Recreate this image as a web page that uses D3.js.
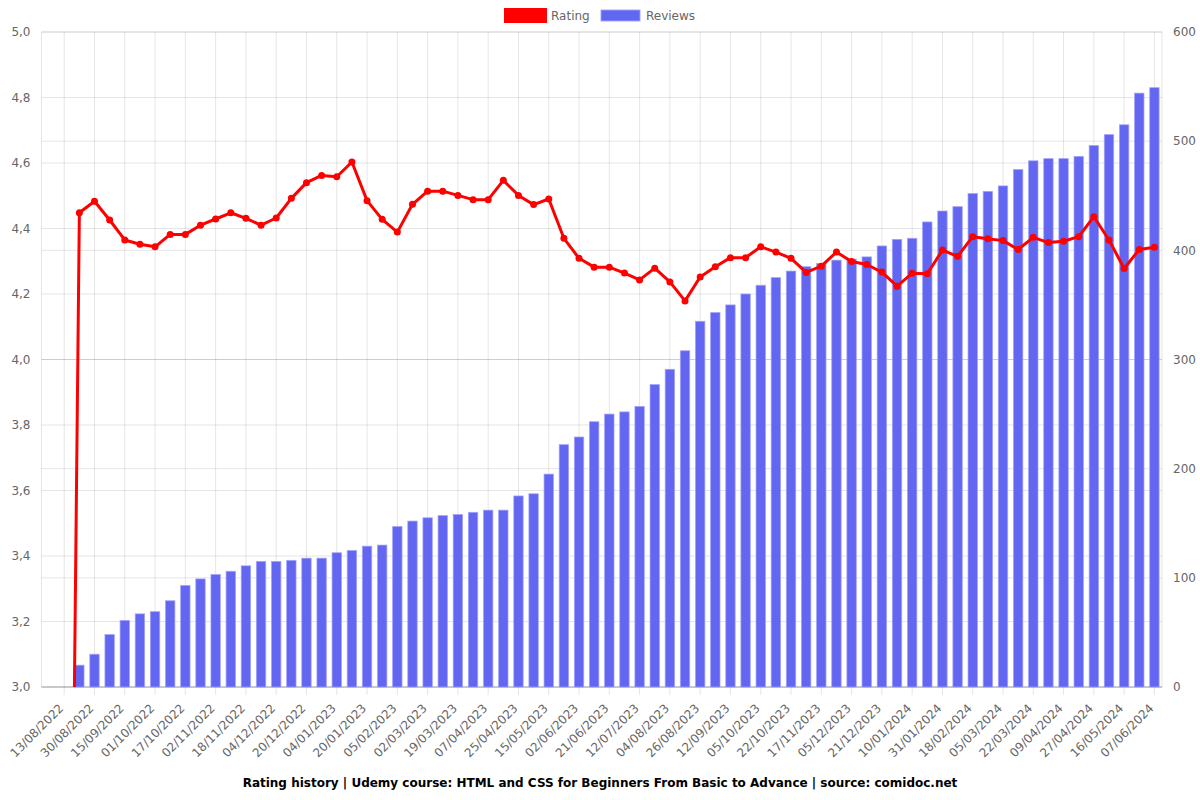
<!DOCTYPE html>
<html>
<head>
<meta charset="utf-8">
<script src="https://cdn.jsdelivr.net/npm/d3@7"></script>
<style>
  html, body { margin: 0; padding: 0; background: #fff; }
  svg { display: block; font-family: "DejaVu Sans", sans-serif; }
</style>
</head>
<body>
<svg id="chart" width="1200" height="800"></svg>
<script>
// ---- data ----
const tickLabels = ["13/08/2022","30/08/2022","15/09/2022","01/10/2022","17/10/2022","02/11/2022","18/11/2022","04/12/2022","20/12/2022","04/01/2023","20/01/2023","05/02/2023","02/03/2023","19/03/2023","07/04/2023","25/04/2023","15/05/2023","02/06/2023","21/06/2023","12/07/2023","04/08/2023","26/08/2023","12/09/2023","05/10/2023","22/10/2023","17/11/2023","05/12/2023","21/12/2023","10/01/2024","31/01/2024","18/02/2024","05/03/2024","22/03/2024","09/04/2024","27/04/2024","16/05/2024","07/06/2024"];

const reviews = [0,0,20,30,48,61,67,69,79,93,99,103,106,111,115,115,116,118,118,123,125,129,130,147,152,155,157,158,160,162,162,175,177,195,222,229,243,250,252,257,277,291,308,335,343,350,360,368,375,381,385,388,391,392,394,404,410,411,426,436,440,452,454,459,474,482,484,484,486,496,506,515,544,549];

const ratings = [0,0,4.448,4.483,4.426,4.365,4.352,4.344,4.382,4.382,4.410,4.429,4.448,4.431,4.410,4.432,4.492,4.540,4.562,4.558,4.603,4.485,4.428,4.389,4.474,4.514,4.514,4.501,4.488,4.488,4.547,4.501,4.473,4.490,4.370,4.309,4.282,4.282,4.264,4.243,4.279,4.237,4.179,4.252,4.283,4.311,4.311,4.344,4.328,4.309,4.266,4.285,4.328,4.299,4.290,4.267,4.224,4.263,4.262,4.334,4.315,4.375,4.369,4.363,4.336,4.373,4.357,4.361,4.375,4.436,4.365,4.278,4.336,4.343];

const ratingTicks = [3.0,3.2,3.4,3.6,3.8,4.0,4.2,4.4,4.6,4.8,5.0];
const reviewTicks = [0,100,200,300,400,500,600];
const titleText = "Rating history | Udemy course: HTML and CSS for Beginners From Basic to Advance | source: comidoc.net";

// ---- layout ----
const L = 41.5, R = 1162, T = 32, B = 687;
const svg = d3.select("#chart");
const idx = d3.range(reviews.length);

const x = d3.scaleBand().domain(idx).range([L, R]).padding(0);
const cx = i => x(i) + x.bandwidth() / 2;
const yL = d3.scaleLinear().domain([3, 5]).range([B, T]);
const yR = d3.scaleLinear().domain([0, 600]).range([B, T]);
const fmt = d => d.toFixed(1).replace(".", ",");
const gridColor = "rgba(0,0,0,0.1)";
const textColor = "#666";

// ---- grids ----
const xTickIdx = idx.filter(i => i % 2 === 1);
const gx = svg.append("g");
gx.selectAll("line").data(xTickIdx).join("line")
  .attr("x1", i => cx(i)).attr("x2", i => cx(i))
  .attr("y1", T).attr("y2", B + 8)
  .attr("stroke", gridColor).attr("stroke-width", 1);

const gyL = svg.append("g");
gyL.selectAll("line").data(ratingTicks).join("line")
  .attr("x1", L).attr("x2", R)
  .attr("y1", d => yL(d)).attr("y2", d => yL(d))
  .attr("stroke", gridColor);
const gyR = svg.append("g");
gyR.selectAll("line").data(reviewTicks).join("line")
  .attr("x1", L).attr("x2", R)
  .attr("y1", d => yR(d)).attr("y2", d => yR(d))
  .attr("stroke", gridColor);

// axis border lines
svg.append("line").attr("x1", L).attr("x2", L).attr("y1", T).attr("y2", B).attr("stroke", gridColor);
svg.append("line").attr("x1", R).attr("x2", R).attr("y1", T).attr("y2", B).attr("stroke", gridColor);
svg.append("line").attr("x1", L).attr("x2", R).attr("y1", B).attr("y2", B).attr("stroke", "rgba(0,0,0,0.25)");

// ---- bars ----
const bw = x.bandwidth() * 0.62;
svg.append("g").selectAll("rect").data(idx).join("rect")
  .attr("x", i => cx(i) - bw / 2)
  .attr("y", i => yR(reviews[i]))
  .attr("width", bw)
  .attr("height", i => B - yR(reviews[i]))
  .attr("fill", "#6366f1")
  .attr("stroke", "rgba(160,162,250,0.9)")
  .attr("stroke-width", reviews.map(v => v > 0 ? 1 : 0)[0] === undefined ? 0 : 0.8);

// ---- line ----
svg.append("clipPath").attr("id", "clip")
  .append("rect").attr("x", L - 4).attr("y", T - 4).attr("width", R - L + 8).attr("height", B - T + 4);
const gl = svg.append("g").attr("clip-path", "url(#clip)");
const line = d3.line().x(i => cx(i)).y(i => yL(ratings[i]));
gl.append("path").datum(idx).attr("d", line)
  .attr("fill", "none").attr("stroke", "#ff0000").attr("stroke-width", 3)
  .attr("stroke-linejoin", "round");
gl.selectAll("circle").data(idx.filter(i => ratings[i] >= 3)).join("circle")
  .attr("cx", i => cx(i)).attr("cy", i => yL(ratings[i])).attr("r", 3.5)
  .attr("fill", "#ff0000");

// ---- axes labels ----
svg.append("g").selectAll("text").data(ratingTicks).join("text")
  .attr("x", L - 11).attr("y", d => yL(d)).attr("dy", "0.35em")
  .attr("text-anchor", "end").attr("font-size", 12).attr("fill", textColor)
  .text(fmt);
svg.append("g").selectAll("text").data(reviewTicks).join("text")
  .attr("x", R + 11).attr("y", d => yR(d)).attr("dy", "0.35em")
  .attr("text-anchor", "start").attr("font-size", 12).attr("fill", textColor)
  .text(d => d);
svg.append("g").selectAll("text").data(xTickIdx).join("text")
  .attr("transform", i => `translate(${cx(i) - 3},${706}) rotate(-45)`)
  .attr("dy", "0.35em")
  .attr("text-anchor", "end").attr("font-size", 12).attr("fill", textColor)
  .text((i, k) => tickLabels[k]);

// ---- legend ----
const lg = svg.append("g").attr("font-size", 12).attr("fill", textColor);
lg.append("rect").attr("x", 505.5).attr("y", 9.5).attr("width", 40).attr("height", 12)
  .attr("fill", "#ff0000").attr("stroke", "#ff0000").attr("stroke-width", 3);
lg.append("text").attr("x", 551).attr("y", 16).attr("dy", "0.35em").text("Rating");
lg.append("rect").attr("x", 601).attr("y", 10).attr("width", 39).attr("height", 11)
  .attr("fill", "#6366f1").attr("stroke", "rgba(160,162,250,0.9)").attr("stroke-width", 1);
lg.append("text").attr("x", 646).attr("y", 16).attr("dy", "0.35em").text("Reviews");

// ---- title ----
svg.append("text").attr("x", 600).attr("y", 783).attr("dy", "0.35em")
  .attr("text-anchor", "middle").attr("font-size", 12).attr("font-weight", "bold")
  .attr("fill", "#000").text(titleText);
</script>
</body>
</html>
